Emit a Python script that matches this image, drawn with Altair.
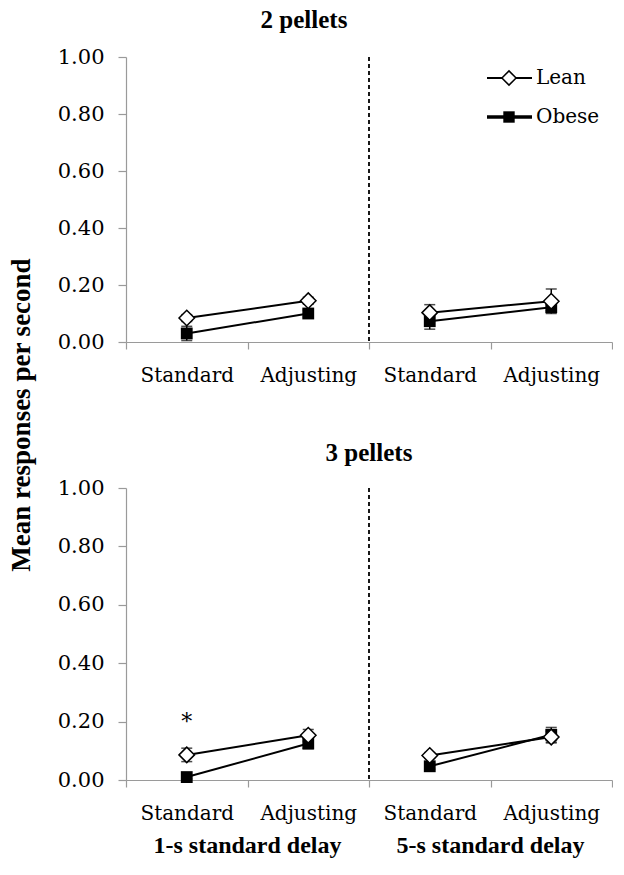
import altair as alt
import pandas as pd

# ---------------- data ----------------
panels = ["2 pellets", "3 pellets"]
series = ["Lean", "Obese"]
conditions = ["Standard", "Adjusting", "Standard", "Adjusting"]
delays = ["1-s standard delay", "5-s standard delay"]
divider_x = [2]

# means in order: 1-s Standard, 1-s Adjusting, 5-s Standard, 5-s Adjusting
lean_2 = [0.084, 0.145, 0.103, 0.143]
obese_2 = [0.030, 0.100, 0.073, 0.122]
lean_2_err = [0.012, 0.012, 0.028, 0.043]
obese_2_err = [0.025, 0.012, 0.028, 0.012]

lean_3 = [0.086, 0.153, 0.084, 0.147]
obese_3 = [0.010, 0.125, 0.047, 0.155]
lean_3_err = [0.023, 0.020, 0.010, 0.020]
obese_3_err = [0.006, 0.018, 0.010, 0.025]

sig_panel = "3 pellets"
sig_pos = 0
sig_text = "*"
sig_y = 0.2

# ---------------- build table ----------------
rows = []
vals = {
    ("2 pellets", "Lean"): (lean_2, lean_2_err),
    ("2 pellets", "Obese"): (obese_2, obese_2_err),
    ("3 pellets", "Lean"): (lean_3, lean_3_err),
    ("3 pellets", "Obese"): (obese_3, obese_3_err),
}
for (p, s), (m, e) in vals.items():
    for i in range(4):
        rows.append(dict(panel=p, series=s, pos=i, x=i + 0.5, group=i // 2,
                         mean=m[i], lo=m[i] - e[i], hi=m[i] + e[i]))
df = pd.DataFrame(rows)
div_df = pd.DataFrame({"x": divider_x})
delay_df = pd.DataFrame({"label": delays, "x": [1.0, 3.0]})
sig_df = pd.DataFrame({"panel": [sig_panel], "x": [sig_pos + 0.5], "y": [sig_y], "t": [sig_text]})
leg_df = pd.DataFrame({"series": series})

BOLD = "Liberation Serif"      # bold serif face
REG = "DejaVu Serif"           # regular serif face
AX = "#9a9a9a"
cond_js = "[" + ",".join("'" + c + "'" for c in conditions) + "]"
label_expr = "datum.value % 1 == 0.5 ? " + cond_js + "[floor(datum.value)] : ''"


def panel_chart(name, width, height, title_dx, title_offset, legend, bottom_labels):
    d = df[df.panel == name]
    xs = alt.Scale(domain=[0, 4], nice=False, zero=False)
    ys = alt.Scale(domain=[0, 1], nice=False)
    x_axis = alt.Axis(
        values=[0, 0.5, 1, 1.5, 2, 2.5, 3, 3.5, 4],
        labelExpr=label_expr,
        tickOpacity={"condition": {"test": "datum.value % 1 != 0", "value": 0}, "value": 1},
        grid=False, domainColor=AX, tickColor=AX, tickSize=7, domainWidth=1.2, tickWidth=1.2,
        labelFont=REG, labelFontSize=20, labelColor="black", labelPadding=16,
        labelAngle=0, labelOverlap=False, labelFlush=False,
    )
    y_axis = alt.Axis(
        values=[0, 0.2, 0.4, 0.6, 0.8, 1.0], format=".2f", grid=False,
        domainColor=AX, tickColor=AX, tickSize=8, domainWidth=1.2, tickWidth=1.2,
        labelFont=REG, labelFontSize=21, labelColor="black", labelPadding=14,
    )
    X = alt.X("x:Q", scale=xs, axis=x_axis, title=None)
    base = alt.Chart(d)

    divider = alt.Chart(div_df).mark_rule(color="black", strokeWidth=1.8, strokeDash=[4, 3]).encode(
        x=alt.X("x:Q", scale=xs))
    err = base.mark_rule(color="black", strokeWidth=1.5).encode(
        x=X, y=alt.Y("lo:Q", scale=ys, axis=y_axis, title=None), y2="hi:Q")
    cap_hi = base.mark_tick(orient="horizontal", color="black", size=11, thickness=1.5).encode(
        x=X, y=alt.Y("hi:Q", scale=ys))
    cap_lo = base.mark_tick(orient="horizontal", color="black", size=11, thickness=1.5).encode(
        x=X, y=alt.Y("lo:Q", scale=ys))
    lines = base.mark_line(color="black", strokeWidth=2).encode(
        x=X, y=alt.Y("mean:Q", scale=ys), detail=["series:N", "group:N"])
    obese = base.transform_filter(alt.datum.series == "Obese").mark_point(
        shape="square", filled=True, color="black", size=140, opacity=1).encode(
        x=X, y=alt.Y("mean:Q", scale=ys))
    lean = base.transform_filter(alt.datum.series == "Lean").mark_point(
        shape="diamond", filled=True, fill="white", stroke="black", strokeWidth=1.5,
        size=240, opacity=1).encode(x=X, y=alt.Y("mean:Q", scale=ys))

    layers = [divider, err, cap_hi, cap_lo, lines, obese, lean]

    s = sig_df[sig_df.panel == name]
    if len(s):
        layers.append(alt.Chart(s).mark_text(font=REG, fontSize=22, color="black", baseline="middle").encode(
            x=alt.X("x:Q", scale=xs), y=alt.Y("y:Q", scale=ys), text="t:N"))

    if legend:
        for i, sname in enumerate(series):
            ld = leg_df[leg_df.series == sname]
            yv = 21 + 39 * i
            layers.append(alt.Chart(ld).mark_rule(color="black", strokeWidth=[2, 3.5][i]).encode(
                x=alt.value(361), x2=alt.value(406), y=alt.value(yv)))
            if i == 0:
                layers.append(alt.Chart(ld).mark_point(
                    shape="diamond", filled=True, fill="white", stroke="black", strokeWidth=1.5,
                    size=200, opacity=1).encode(x=alt.value(383), y=alt.value(yv)))
            else:
                layers.append(alt.Chart(ld).mark_point(
                    shape="square", filled=True, color="black", size=130, opacity=1).encode(
                    x=alt.value(383), y=alt.value(yv)))
            layers.append(alt.Chart(ld).mark_text(
                font=REG, fontSize=20, color="black", align="left", baseline="middle").encode(
                x=alt.value(410), y=alt.value(yv), text="series:N"))

    if bottom_labels:
        layers.append(alt.Chart(delay_df).mark_text(
            font=BOLD, fontSize=24, fontWeight="bold", color="black", baseline="alphabetic").encode(
            x=alt.X("x:Q", scale=xs), y=alt.value(height + 73), text="label:N"))

    return alt.layer(*layers).properties(
        width=width, height=height,
        title=alt.TitleParams(name, font=BOLD, fontSize=25, fontWeight="bold", color="black",
                              anchor="middle", dx=title_dx, offset=title_offset),
    )


top = panel_chart("2 pellets", 486, 285, -65, 13, True, False)
bottom = panel_chart("3 pellets", 486, 292, 0, 11, False, True)

chart = alt.vconcat(top, bottom, spacing=56).properties(
    padding=0,
    title=alt.TitleParams("Mean responses per second", orient="left", anchor="middle",
                          font=BOLD, fontSize=27, fontWeight="bold", color="black",
                          offset=21, dx=18),
).configure_view(stroke=None)

chart.save("out.html", embed_options={"renderer": "svg", "actions": False})
